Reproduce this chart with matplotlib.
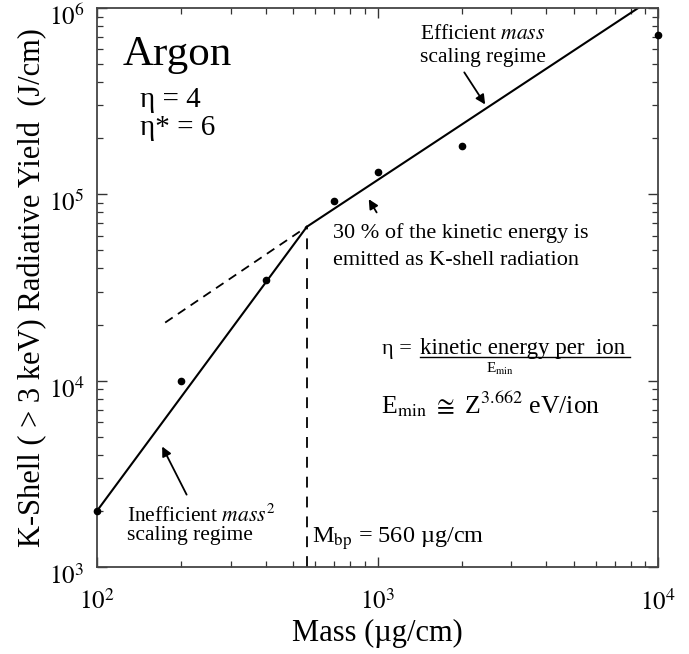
import matplotlib
matplotlib.use("Agg")
import matplotlib.pyplot as plt
import matplotlib.transforms as mtransforms
from matplotlib.ticker import LogLocator, FixedLocator

plt.rcParams['font.family'] = ['Liberation Serif', 'DejaVu Serif']
plt.rcParams['mathtext.fontset'] = 'stix'

# measured points (mass in ug/cm, K-shell yield in J/cm)
mass = [100, 200, 400, 700, 1000, 2000, 10000]
kyield = [2000, 10000, 34500, 92000, 131000, 181000, 716000]

# scaling regime lines (end points)
ineff_x = [100, 560]
ineff_y = [2000, 67000]
eff_x = [560, 8500]
eff_y = [67000, 1.0e6]
ext_x = [175, 560]
ext_y = [20500, 67000]
mbp = 560

fig = plt.figure(figsize=(6.89, 6.54), dpi=100)
ax = fig.add_axes([97/689, 87/654, 561/689, 559/654])
ax.set_xscale('log')
ax.set_yscale('log')
ax.set_xlim(1e2, 1e4)
ax.set_ylim(1e3, 1e6)

ax.plot(ineff_x, ineff_y, color='black', lw=1.5)
ax.plot(eff_x, eff_y, color='black', lw=1.5)
ax.plot(ext_x, ext_y, color='black', lw=1.3, dashes=(5, 3.5))
ax.plot([mbp, mbp], [1e3, ineff_y[1]], color='black', lw=1.3, dashes=(6, 5))
ax.plot(mass, kyield, 'o', color='black', ms=4.5, clip_on=False, zorder=5)

# ticks
ax.xaxis.set_major_locator(FixedLocator([1e2, 1e3, 1e4]))
ax.yaxis.set_major_locator(FixedLocator([1e3, 1e4, 1e5, 1e6]))
ax.xaxis.set_minor_locator(LogLocator(base=10, subs=range(2, 10)))
ax.yaxis.set_minor_locator(LogLocator(base=10, subs=range(2, 10)))
ax.tick_params(which='both', direction='in', top=True, right=True, colors='#333333')
ax.tick_params(which='major', length=7, width=1.0, labelsize=18, labelcolor='black')
ax.tick_params(which='minor', length=4, width=0.9)
ax.tick_params(axis='x', which='major', pad=16)
ax.tick_params(axis='y', which='major', pad=9)
for s in ax.spines.values():
    s.set_linewidth(1.3)
    s.set_color('#444444')

ax.set_xticklabels([r'$10^2$', r'$10^3$', r'$10^4$'])
ax.set_yticklabels([r'$10^3$', r'$10^4$', r'$10^5$', r'$10^6$'])
shift = mtransforms.ScaledTranslation(0, -5/72, fig.dpi_scale_trans)
for lab in ax.get_yticklabels():
    lab.set_transform(lab.get_transform() + shift)

ax.set_xlabel('Mass (µg/cm)', fontsize=22, labelpad=3)
ax.set_ylabel('K-Shell ( > 3 keV) Radiative Yield  (J/cm)', fontsize=22, labelpad=1)

T = ax.transAxes
ax.text(0.045, 0.898, 'Argon', transform=T, fontsize=31, va='baseline')
ax.text(0.077, 0.823, 'η = 4', transform=T, fontsize=21, va='baseline')
ax.text(0.077, 0.773, 'η* = 6', transform=T, fontsize=21, va='baseline')

ax.text(0.688, 0.945, r'Efficient $\mathit{mass}$', transform=T, fontsize=15.5,
        ha='center', va='baseline')
ax.text(0.688, 0.903, 'scaling regime', transform=T, fontsize=15.5,
        ha='center', va='baseline')
ax.annotate('', xy=(2450, 2.95e5), xycoords='data', xytext=(0.652, 0.889),
            textcoords='axes fraction',
            arrowprops=dict(arrowstyle='-|>', color='black', lw=1.3, mutation_scale=14))

ax.text(0.421, 0.589, '30 % of the kinetic energy is', transform=T, fontsize=16,
        va='baseline')
ax.text(0.421, 0.540, 'emitted as K-shell radiation', transform=T, fontsize=16,
        va='baseline')
ax.annotate('', xy=(920, 97000), xycoords='data', xytext=(0.501, 0.630),
            textcoords='axes fraction',
            arrowprops=dict(arrowstyle='-|>', color='black', lw=1.3, mutation_scale=14))

ax.text(0.053, 0.080, r'Inefficient $\mathit{mass}^2$', transform=T, fontsize=15.5,
        va='baseline')
ax.text(0.053, 0.048, 'scaling regime', transform=T, fontsize=15.5, va='baseline')
ax.annotate('', xy=(169, 4570), xycoords='data', xytext=(0.162, 0.125),
            textcoords='axes fraction',
            arrowprops=dict(arrowstyle='-|>', color='black', lw=1.3, mutation_scale=14))

ax.text(0.383, 0.043, r'M$_{\mathrm{bp}}$ = 560 µg/cm', transform=T, fontsize=17.5,
        va='baseline')

ax.text(0.508, 0.381, 'η =', transform=T, fontsize=16, va='baseline')
ax.text(0.576, 0.381, 'kinetic energy per  ion', transform=T, fontsize=16.5,
        va='baseline')
ax.plot([0.576, 0.950], [0.375, 0.375], transform=T, color='black', lw=1.0)
ax.text(0.718, 0.347, r'E$_{\mathrm{min}}$', transform=T, fontsize=11, ha='center',
        va='baseline')
ax.text(0.506, 0.275, r'E$_{\mathrm{min}}$ $\cong$ Z$^{3.662}$ eV/ion', transform=T,
        fontsize=18.5, va='baseline')

fig.savefig('out.png', dpi=100)
